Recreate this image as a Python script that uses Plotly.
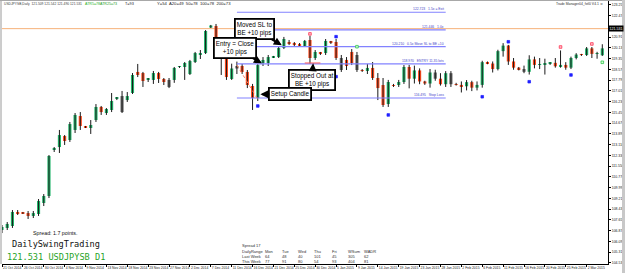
import plotly.graph_objects as go

# ---------------- data ----------------
opens = [106.92,107.07,107.21,108.23,108.15,108.15,107.94,108.08,108.88,109.39,
         112.73,112.94,113.74,113.45,114.18,115.19,114.40,114.32,114.90,115.85,
         115.41,115.63,116.43,116.64,116.35,116.86,118.39,118.31,117.81,117.81,
         118.31,117.88,117.81,117.81,118.75,118.75,118.24,119.11,119.69,119.76,
         121.61,121.72,120.71,119.62,117.88,118.64,118.82,118.39,117.37,116.50,
         119.04,119.04,119.44,119.47,120.13,120.56,120.49,120.42,120.27,120.71,
         119.40,119.76,119.76,120.56,120.56,119.40,119.26,119.84,119.62,118.53,
         118.46,118.68,117.95,117.44,116.06,117.44,117.44,117.66,118.75,117.90,
         118.50,117.70,117.55,118.35,117.90,117.50,118.30,117.50,117.45,117.35,
         117.65,117.25,117.45,119.10,119.00,118.60,119.90,120.30,119.15,118.70,
         118.60,118.40,119.30,118.90,118.95,119.00,119.05,118.80,118.90,118.70,
         119.40,119.65,119.62,120.10,119.70,119.60]
highs = [107.28,107.50,108.37,108.37,108.23,108.30,108.30,109.17,109.53,112.36,
         112.94,114.18,113.81,114.76,115.41,115.48,114.47,114.90,116.06,115.92,
         115.77,116.86,116.57,117.01,116.93,118.31,118.97,118.39,117.95,118.46,
         118.39,117.95,117.95,118.75,118.82,119.11,119.26,119.84,119.98,121.43,
         121.80,121.87,120.85,119.84,118.99,119.14,118.97,118.53,117.52,118.97,
         119.47,119.62,119.55,120.27,120.93,120.71,120.56,120.49,120.71,121.00,
         119.98,119.84,120.78,120.64,120.78,119.62,119.47,120.05,119.84,118.60,
         118.97,119.11,118.31,117.95,117.81,117.52,117.81,118.89,118.90,118.85,
         118.65,117.75,118.60,118.55,118.30,118.45,118.45,117.60,117.70,117.80,
         117.75,117.70,119.20,119.15,119.15,120.00,120.48,120.35,119.40,118.75,
         118.85,119.60,119.50,119.40,119.35,119.10,119.40,119.95,119.10,119.50,
         119.75,119.70,120.20,120.20,119.85,120.40]
lows = [106.70,106.92,107.07,108.01,108.08,107.72,107.79,107.94,108.66,109.24,
        112.58,112.51,113.09,113.31,113.96,114.18,114.32,113.89,114.76,115.27,
        115.27,115.48,116.35,115.41,116.21,116.79,118.02,117.30,117.66,117.52,
        117.59,117.44,117.22,117.60,118.68,117.81,118.17,119.04,119.33,119.69,
        121.58,120.71,118.17,117.81,117.81,118.24,118.24,117.22,115.63,116.28,
        118.82,118.82,119.40,119.40,120.05,120.34,120.27,120.27,120.20,118.97,
        119.26,119.62,119.62,120.42,119.26,118.39,118.53,118.89,118.39,118.39,
        118.24,117.81,116.35,115.85,115.85,117.30,117.30,117.52,117.20,117.55,
        117.50,117.45,117.25,117.75,117.40,117.30,117.30,117.40,116.90,117.05,
        117.00,117.05,117.25,118.95,118.35,118.50,119.50,118.90,118.55,118.50,
        118.30,118.20,118.65,118.60,118.20,118.90,118.70,118.70,118.55,118.60,
        119.30,119.55,119.55,119.40,119.35,119.55]
closes = [107.14,107.36,108.23,108.15,108.12,107.94,108.15,109.03,109.39,112.29,
          112.87,113.81,113.38,114.61,115.27,114.47,114.36,114.54,115.85,115.48,
          115.70,116.28,116.50,115.48,116.64,118.17,118.17,117.73,117.88,118.31,
          117.88,117.66,117.30,118.68,118.79,119.04,119.18,119.76,119.76,121.36,
          121.76,120.85,119.62,118.02,118.64,118.82,118.39,117.44,116.50,118.89,
          119.26,119.47,119.51,120.13,120.78,120.42,120.38,120.34,120.64,119.40,
          119.84,119.73,120.64,120.53,119.40,118.53,118.82,119.04,118.53,118.46,
          118.68,117.95,117.22,115.99,117.66,117.37,117.66,118.75,117.90,118.50,
          117.70,117.55,118.35,117.90,117.50,118.30,117.50,117.45,117.35,117.65,
          117.25,117.45,119.10,119.00,118.60,119.90,120.30,119.15,118.70,118.60,
          118.40,119.30,118.90,118.95,119.00,119.05,118.80,118.90,118.70,119.40,
          119.65,119.62,120.10,119.70,119.75,120.10]
body_kind = list("gggrrrgggg" "ggrggrrggr" "gggkggrrgg" "rrkggggggg"
                 "grrrgkrrrg" "gggggrrrgr" "grgrrkrrkr" "grrrgrggrg"
                 "rrgkrgkrrg" "rggrrggrrr" "kgrgggrgrg" "grgrgg")
bar_index = list(range(len(opens)))

tick_index = [0,4,8,12,16,20,24,28,32,36,40,44,48,52,56,60,64,68,72,76,80,84,88,92,96,100,104,108,112]
tick_labels = ["21 Oct 2014","26 Oct 2014","30 Oct 2014","4 Nov 2014","9 Nov 2014","13 Nov 2014",
               "18 Nov 2014","23 Nov 2014","27 Nov 2014","2 Dec 2014","7 Dec 2014","11 Dec 2014",
               "16 Dec 2014","21 Dec 2014","25 Dec 2014","30 Dec 2014","5 Jan 2015","9 Jan 2015",
               "14 Jan 2015","19 Jan 2015","23 Jan 2015","28 Jan 2015","2 Feb 2015","6 Feb 2015",
               "11 Feb 2015","16 Feb 2015","20 Feb 2015","25 Feb 2015","2 Mar 2015"]
price_ticks = [123.250,122.470,121.690,120.910,120.130,119.350,118.570,117.790,117.010,116.230,
               115.450,114.670,113.890,113.110,112.330,111.550,110.770,109.990,109.210,108.430,
               107.650,106.870,106.090,105.310,104.530]
price_tick_labels = ["123.250","122.470","","120.910","120.130","119.350","118.570","117.790",
                     "117.010","116.230","115.450","114.670","113.890","113.110","112.330","111.550",
                     "110.770","109.990","109.210","108.430","107.650","106.870","106.090","105.310",
                     "104.530"]
bid_price = 121.531

marker_idx = [49, 59, 64, 64, 68, 74, 92, 97, 101, 107, 109, 113, 115]
marker_price = [115.92, 121.15, 120.95, 118.05, 120.22, 115.27, 116.59, 120.58, 117.68, 120.20, 118.17, 120.42, 119.09]
marker_kind = ['b', 'r', 'b', 'b', 'g', 'b', 'b', 'b', 'b', 'r', 'b', 'r', 'g']

trade_start, trade_end = 45, 85
trade_prices = [122.72, 121.44, 120.22, 118.97, 116.50]
trade_labels = ["122.723   1.5x = Exit", "121.446   1.0x", "120.210   0.5x Move SL to BE +10",
                "118.970   ENTRY 11.35 lots", "116.495   Stop Loss"]
be_stop = (58, 61, 119.04)
trend_pts = ([45, 49], [118.89, 116.40])

callout_text = ["Moved SL to<br>BE +10 pips", "Entry = Close<br>+10 pips", "Stopped Out at<br>BE +10 pips", "Setup Candle"]
callout_tip = [(53.6, 120.33), (49.8, 119.02), (59.6, 119.02), (49.5, 116.78)]

table_head = ["DailyRange", "Mon", "Tue", "Wed", "Thu", "Fri", "WSum", "WADR"]
last_week = ["Last Week", "64", "48", "40", "101", "45", "305", "62"]
this_week = ["This Week", "77", "91", "80", "54", "93", "404", "81"]

# ---------------- figure ----------------
W, H = 625, 273
ML, MR, MT, MB = 2, 17, 1, 9
PX_PER_BAR = 5.22
Y0, YS = 123.61, 0.07256  # price at pixel 0, price per pixel
x_range = [0, (W - ML - MR) / PX_PER_BAR]
y_range = [Y0 - YS * (H - MB), Y0 - YS * MT]

def pxx(px):
    return (px - ML) / (W - ML - MR)

def pxy(py):
    return (H - MB - py) / (H - MT - MB)

colors = {'g': '#22b46a', 'r': '#ff4a1c', 'k': '#6a6a6a'}
FONT = "Liberation Sans, Arial, sans-serif"

fig = go.Figure()

# wicks
wx, wy = [], []
for i in bar_index:
    wx += [i, i, None]
    wy += [lows[i], highs[i], None]
fig.add_trace(go.Scatter(x=wx, y=wy, mode="lines", line=dict(color="#1a1a1a", width=1),
                         hoverinfo="skip"))

# bodies
for kind, col in colors.items():
    sel = [i for i in bar_index if body_kind[i] == kind]
    base = [min(opens[i], closes[i]) for i in sel]
    hgt = [max(abs(closes[i] - opens[i]), 0.06) for i in sel]
    fig.add_trace(go.Bar(x=sel, y=hgt, base=base, width=0.6, marker_color=col,
                         marker_line_width=0))

# trade manager lines
for p in trade_prices:
    fig.add_trace(go.Scatter(x=[trade_start, trade_end], y=[p, p], mode="lines",
                             line=dict(color="#8282ff", width=1.2), hoverinfo="skip"))
for p, t in zip(trade_prices, trade_labels):
    fig.add_annotation(x=trade_end, y=p, text=t, showarrow=False, xanchor="right",
                       yanchor="bottom", yshift=-1, font=dict(size=3.4, color="#4646c8", family=FONT))

# BE stop marker & trend line
fig.add_trace(go.Scatter(x=[be_stop[0], be_stop[1]], y=[be_stop[2], be_stop[2]], mode="lines",
                         line=dict(color="#ff5a5a", width=1), hoverinfo="skip"))
fig.add_trace(go.Scatter(x=trend_pts[0], y=trend_pts[1], mode="lines",
                         line=dict(color="#ff8060", width=1, dash="dot"), hoverinfo="skip"))

# signal markers
mcol = {'b': '#2020ff', 'r': '#ff2040', 'g': '#20c040'}
mfill = {'b': '#2020ff', 'r': '#ffc0cc', 'g': '#d0ffd0'}
for kind in mcol:
    sel = [j for j in range(len(marker_idx)) if marker_kind[j] == kind]
    fig.add_trace(go.Scatter(x=[marker_idx[j] for j in sel], y=[marker_price[j] for j in sel],
                             mode="markers", marker=dict(symbol="square", size=2.6, color=mfill[kind],
                                                         line=dict(color=mcol[kind], width=0.7))))

# bid line
fig.add_shape(type="line", xref="paper", x0=0, x1=1, y0=bid_price, y1=bid_price,
              line=dict(color="#f6b27a", width=1), layer="below")

# callouts
offsets = [(-27, -16), (-27, -15), (-1, 17), (30, 0)]
for t, (tx, ty), (ax, ay) in zip(callout_text, callout_tip, offsets):
    fig.add_annotation(x=tx, y=ty, text=t, showarrow=True, ax=ax, ay=ay,
                       arrowhead=2, arrowsize=0.8, arrowwidth=2, arrowcolor="black",
                       bgcolor="white", bordercolor="black", borderwidth=1.8, borderpad=1,
                       font=dict(size=6.3, color="black", family=FONT))

# price box
fig.add_annotation(xref="paper", x=1, y=bid_price, text=f"{bid_price:.3f}", showarrow=False,
                   xanchor="left", bgcolor="black", borderpad=0.5,
                   font=dict(size=3.6, color="white", family=FONT))

# header texts
def txt(px, py, s, size, color="#202020", family=FONT, anchor="left"):
    fig.add_annotation(xref="paper", yref="paper", x=pxx(px), y=pxy(py), text=s, showarrow=False,
                       xanchor=anchor, yanchor="middle", font=dict(size=size, color=color, family=family))

txt(2, 3.5, "USDJPYSB,Daily  121.509 121.542 121.490 121.531", 3.3, "#404040")
txt(83, 3.5, "ATR5=78", 3.6, "#22b022")
txt(98, 3.5, "ATR25=73", 3.6, "#1a9a1a")
txt(123, 3.5, "T=93", 3.8, "#202020")
txt(155, 3.5, "Y=54  A20=49  50=78  100=78  200=73", 4.2, "#202020")
txt(605, 4, "Trade Manager04_fxtl0 V4.1 ☺", 3.4, "#303030", anchor="right")

txt(31, 233, "Spread: 1.7 points.", 5.3, "#101010")
txt(10, 244, "DailySwingTrading", 8.6, "#111111", family="DejaVu Sans Mono")
txt(5, 257, "121.531 USDJPYSB D1", 8.6, "#27a327", family="DejaVu Sans Mono")

txt(240, 245.5, "Spread 17", 4, "#303030")
col_x = [240, 263, 280, 296, 312, 330, 346, 362]
for row, py in ((table_head, 251.3), (last_week, 256.3), (this_week, 261)):
    for px, s in zip(col_x, row):
        txt(px, py, s, 4, "#303030")

# frame lines
fig.add_shape(type="line", xref="paper", yref="paper", x0=pxx(1), x1=pxx(1), y0=pxy(0), y1=pxy(264),
              line=dict(color="#9a9a9a", width=1))
fig.add_shape(type="line", xref="paper", yref="paper", x0=pxx(0), x1=pxx(625), y0=pxy(0.5), y1=pxy(0.5),
              line=dict(color="#a8a8a8", width=1))
fig.add_shape(type="line", xref="paper", yref="paper", x0=pxx(623.5), x1=pxx(623.5), y0=pxy(0), y1=pxy(273),
              line=dict(color="#c8c8c8", width=3))

fig.update_layout(
    width=W, height=H, margin=dict(l=ML, r=MR, t=MT, b=MB),
    paper_bgcolor="white", plot_bgcolor="white", showlegend=False, barmode="overlay",
    font=dict(family=FONT),
    xaxis=dict(range=x_range, showgrid=False, zeroline=False, showline=True, linecolor="black",
               linewidth=1, ticks="outside", ticklen=2, tickcolor="black", tickvals=tick_index,
               ticktext=tick_labels, tickfont=dict(size=3.4, color="#202020"), tickangle=0,
               ticklabelposition="outside right", automargin=False, fixedrange=True),
    yaxis=dict(range=y_range, side="right", showgrid=False, zeroline=False, showline=True,
               linecolor="black", linewidth=1, ticks="outside", ticklen=2, tickcolor="black",
               tickvals=price_ticks, ticktext=price_tick_labels,
               tickfont=dict(size=3.5, color="#202020"), automargin=False, fixedrange=True),
)

fig.write_html("out.html")
